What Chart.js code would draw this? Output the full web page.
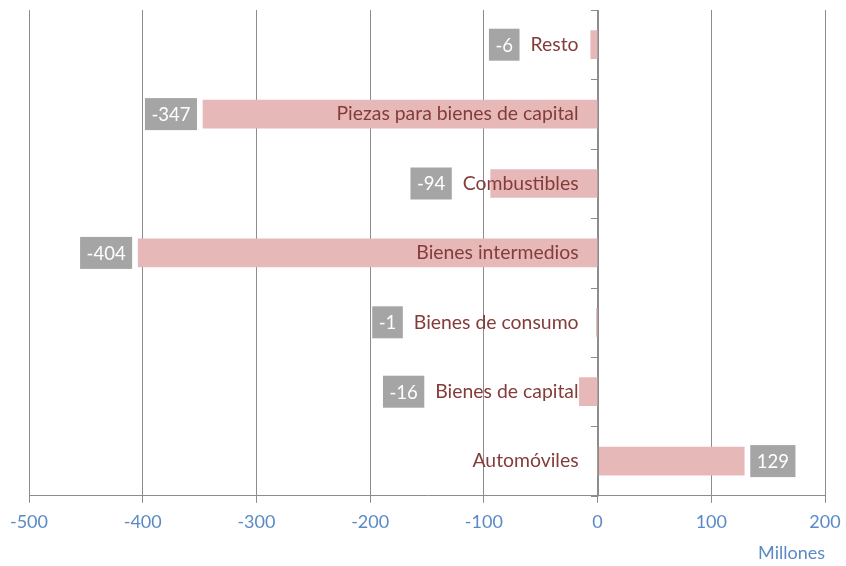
<!DOCTYPE html>
<html>
<head>
<meta charset="utf-8">
<script src="https://cdn.jsdelivr.net/npm/chart.js@4/dist/chart.umd.min.js"></script>
<style>
html,body{margin:0;padding:0;background:#fff;}
#wrap{width:846px;height:566px;position:relative;}
</style>
</head>
<body>
<div id="wrap"><canvas id="c" width="846" height="566"></canvas></div>
<script>
const categories = ['Resto','Piezas para bienes de capital','Combustibles','Bienes intermedios','Bienes de consumo','Bienes de capital','Automóviles'];
const values = [-6,-347,-94,-404,-1,-16,129];
const xMin = -500, xMax = 200, xStep = 100;
const axisTitle = 'Millones';

const FONT = 'Lato, "Liberation Sans", sans-serif';
const labelColor = '#843C3A';
const boxColor = '#A5A5A5';
const gridColor = '#8C8C8C';
const tickColor = '#5A8AC6';

const labelPlugin = {
  id: 'labels',
  afterDatasetsDraw(chart) {
    const ctx = chart.ctx;
    const xs = chart.scales.x, ys = chart.scales.y;
    const area = chart.chartArea;
    const x0 = xs.getPixelForValue(0);
    ctx.save();
    ctx.strokeStyle = gridColor;
    ctx.lineWidth = 1;
    ctx.beginPath();
    ctx.moveTo(Math.round(x0) + 0.5, area.top);
    ctx.lineTo(Math.round(x0) + 0.5, area.bottom);
    for (let i = 0; i <= categories.length; i++) {
      const yy = Math.round(ys.getPixelForValue(i - 0.5)) + 0.5;
      ctx.moveTo(Math.round(x0) - 7, yy);
      ctx.lineTo(Math.round(x0) + 0.5, yy);
    }
    ctx.stroke();

    const meta = chart.getDatasetMeta(0);
    ctx.textBaseline = 'middle';
    meta.data.forEach((bar, i) => {
      const y = bar.y;
      const v = values[i];
      ctx.font = '19.4px ' + FONT;
      ctx.fillStyle = labelColor;
      ctx.textAlign = 'right';
      const labelRight = x0 - 19;
      ctx.fillText(categories[i], labelRight, y);
      const labelLeft = labelRight - ctx.measureText(categories[i]).width;
      ctx.font = '18.5px ' + FONT;
      const txt = String(v);
      const w = ctx.measureText(txt).width + 13;
      const h = 32;
      let left;
      if (v < 0) {
        const right = Math.min(bar.x - 6, labelLeft - 11);
        left = right - w;
      } else {
        left = bar.x + 6;
      }
      ctx.fillStyle = boxColor;
      ctx.fillRect(left, y - h / 2, w, h);
      ctx.fillStyle = '#FFFFFF';
      ctx.textAlign = 'center';
      ctx.fillText(txt, left + w / 2, y + 1);
    });
    ctx.restore();
  }
};

new Chart(document.getElementById('c'), {
  type: 'bar',
  data: {
    labels: categories,
    datasets: [{
      data: values,
      backgroundColor: '#E6B9B8',
      borderWidth: 0,
      barThickness: 28
    }]
  },
  options: {
    indexAxis: 'y',
    responsive: false,
    animation: false,
    events: [],
    layout: { padding: { left: 29, right: 21, top: 10, bottom: 2 } },
    plugins: { legend: { display: false }, tooltip: { enabled: false } },
    scales: {
      x: {
        min: xMin, max: xMax,
        afterFit(scale) { scale.paddingLeft = 0; scale.paddingRight = 0; },
        ticks: { stepSize: xStep, color: tickColor, font: { family: FONT, size: 18 }, padding: 9 },
        grid: { color: gridColor, tickColor: gridColor, tickLength: 7, drawTicks: true },
        border: { color: gridColor },
        title: { display: true, text: axisTitle, align: 'end', color: tickColor, font: { family: FONT, size: 18 }, padding: { top: 0, bottom: 0 } }
      },
      y: {
        display: false,
        offset: true
      }
    }
  },
  plugins: [labelPlugin]
});
</script>
</body>
</html>
